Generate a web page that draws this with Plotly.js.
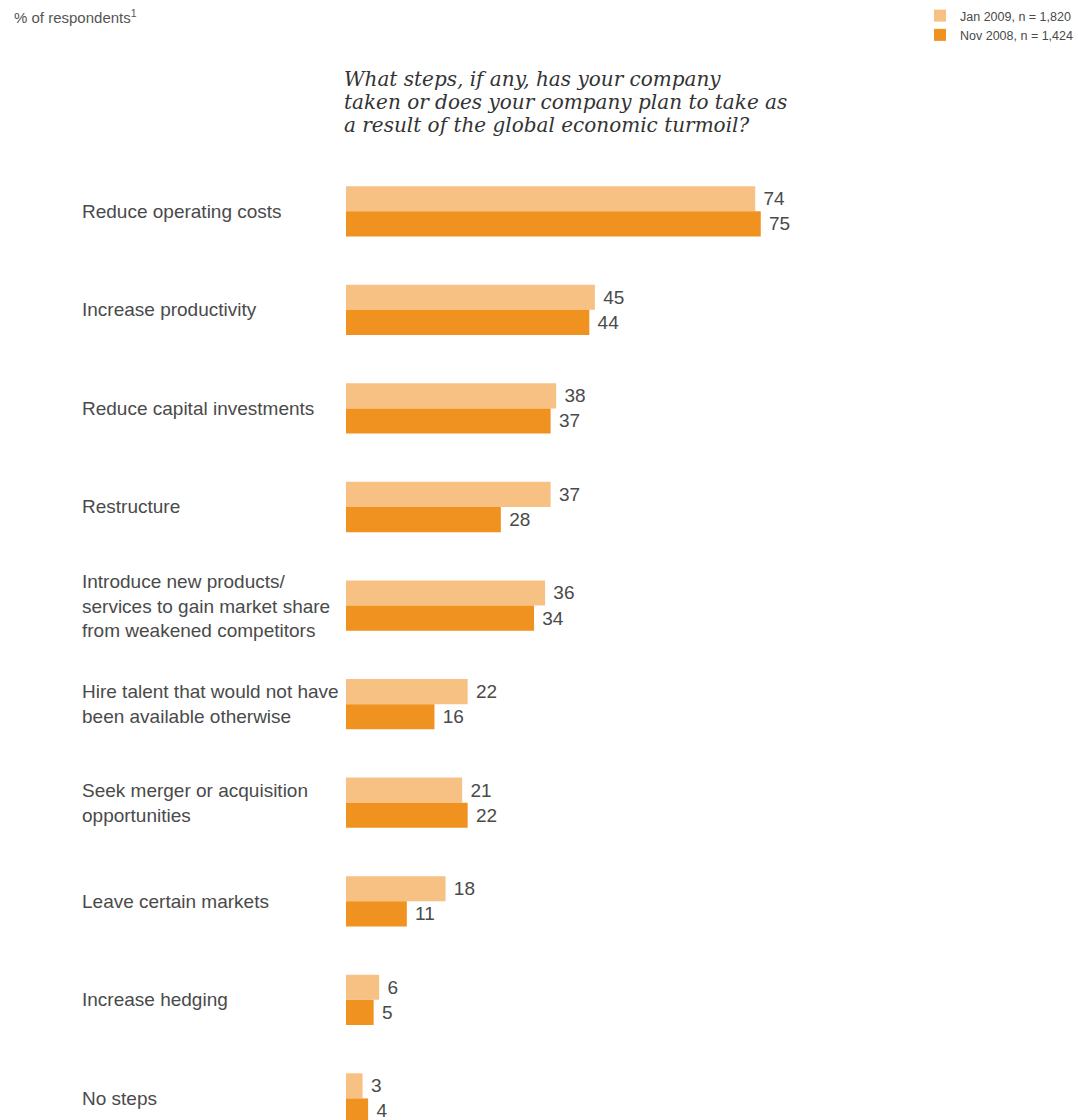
<!DOCTYPE html>
<html>
<head>
<meta charset="utf-8">
<script src="https://cdn.plot.ly/plotly-3.0.1.min.js"></script>
<style>
html,body{margin:0;padding:0;background:#fff;}
</style>
</head>
<body>
<div id="chart" style="width:1078px;height:1120px;"></div>
<script>
const categories = [
  "Reduce operating costs",
  "Increase productivity",
  "Reduce capital investments",
  "Restructure",
  "Introduce new products/<br>services to gain market share<br>from weakened competitors",
  "Hire talent that would not have<br>been available otherwise",
  "Seek merger or acquisition<br>opportunities",
  "Leave certain markets",
  "Increase hedging",
  "No steps"
];
const jan2009 = [74, 45, 38, 37, 36, 22, 21, 18, 6, 3];
const nov2008 = [75, 44, 37, 28, 34, 16, 22, 11, 5, 4];
const seriesNames = ["Jan 2009, n = 1,820", "Nov 2008, n = 1,424"];
const titleLines = [
  "What steps, if any, has your company",
  "taken or does your company plan to take as",
  "a result of the global economic turmoil?"
];
const unitLabel = "% of respondents<sup>1</sup>";

const sans = "'Liberation Sans', Arial, 'DejaVu Sans', sans-serif";
const serif = "'DejaVu Serif', 'Liberation Serif', serif";
const gray = "#4a4a4a";
const pad = "\u00a0";

// geometry helpers (pixels -> paper)
const W = 1078, H = 1120;
const M = {l: 346, r: 179, t: 162, b: 0};
const pw = W - M.l - M.r, ph = H - M.t - M.b;
const px = x => (x - M.l) / pw;
const py = y => (H - M.b - y) / ph;

const traces = [
  {type: "bar", orientation: "h", name: seriesNames[0], y: categories, x: jan2009,
   marker: {color: "#F8C184"}, text: jan2009.map(v => pad + v), textposition: "outside",
   textfont: {family: sans, size: 19, color: gray}, cliponaxis: false, hoverinfo: "x+name"},
  {type: "bar", orientation: "h", name: seriesNames[1], y: categories, x: nov2008,
   marker: {color: "#F0921F"}, text: nov2008.map(v => pad + v), textposition: "outside",
   textfont: {family: sans, size: 19, color: gray}, cliponaxis: false, hoverinfo: "x+name"}
];

const annotations = categories.map(c => ({
  xref: "paper", yref: "y", x: px(80), y: c, xanchor: "left", yanchor: "middle",
  align: "left", text: c, showarrow: false,
  font: {family: sans, size: 19, color: gray}
}));
annotations.push({
  xref: "paper", yref: "paper", x: px(12), y: py(16), xanchor: "left", yanchor: "middle",
  text: unitLabel, showarrow: false, font: {family: sans, size: 15, color: "#555"}
});
const titleY = [79, 102, 125];
titleLines.forEach((t, i) => annotations.push({
  xref: "paper", yref: "paper", x: px(342), y: py(titleY[i]), xanchor: "left", yanchor: "middle",
  text: t, showarrow: false,
  font: {family: serif, size: 20, color: "#333", style: "italic"}
}));

const layout = {
  width: W, height: H,
  margin: M,
  paper_bgcolor: "#fff", plot_bgcolor: "#fff",
  barmode: "group", bargap: 0.49, bargroupgap: 0,
  xaxis: {range: [0, 100], visible: false, fixedrange: true},
  yaxis: {type: "category", range: [9.219, -0.5], showticklabels: false, showgrid: false,
          zeroline: false, showline: false, ticks: "", fixedrange: true},
  showlegend: true,
  legend: {xref: "container", yref: "container", x: 920 / W, y: 1 - 1 / H,
           xanchor: "left", yanchor: "top", traceorder: "normal",
           font: {family: sans, size: 12.5, color: gray}, itemwidth: 30,
           bgcolor: "rgba(0,0,0,0)"},
  annotations: annotations
};

Plotly.newPlot("chart", traces, layout, {displayModeBar: false, staticPlot: true});
</script>
</body>
</html>
